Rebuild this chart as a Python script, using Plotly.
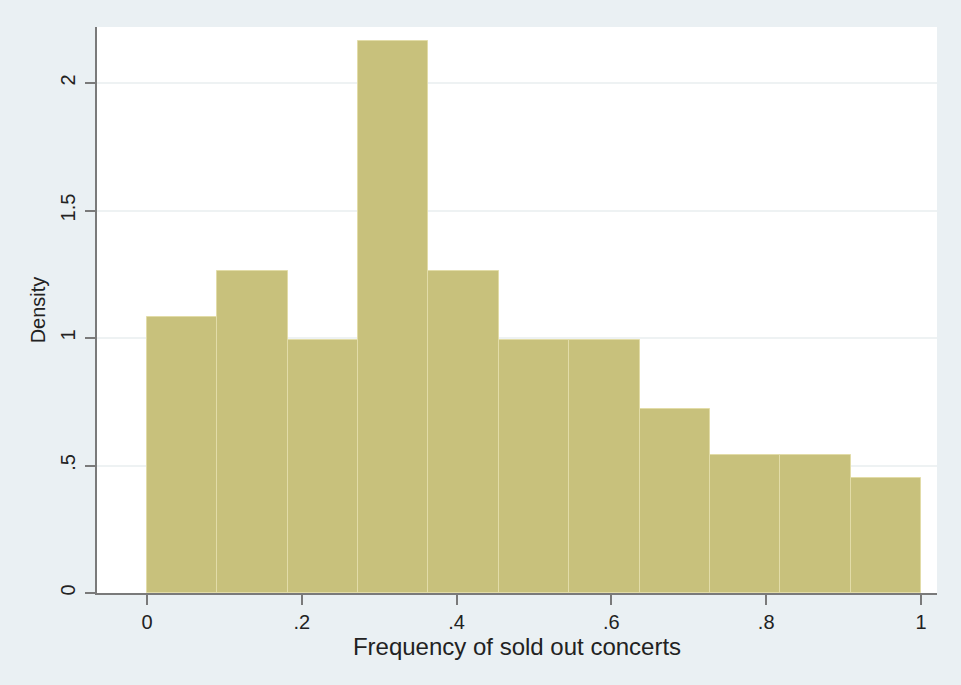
import numpy as np
import plotly.graph_objects as go

# Histogram of frequency of sold out concerts (11 bins on [0,1])
bin_counts = [12, 14, 11, 24, 14, 11, 11, 8, 6, 6, 5]
bin_start = 0.0
bin_end = 1.0
x_tickvals = [0, 0.2, 0.4, 0.6, 0.8, 1]
x_ticktext = ["0", ".2", ".4", ".6", ".8", "1"]
y_tickvals = [0, 0.5, 1, 1.5, 2]
y_ticktext = ["0", ".5", "1", "1.5", "2"]

nbins = len(bin_counts)
edges = np.linspace(bin_start, bin_end, nbins + 1)
width = (bin_end - bin_start) / nbins
centers = (edges[:-1] + edges[1:]) / 2
total = sum(bin_counts)
density = [c / (total * width) for c in bin_counts]

font = "Liberation Sans, Arial, sans-serif"
fig = go.Figure()
fig.add_trace(go.Bar(
    x=centers, y=density, width=width,
    marker=dict(color="#C8C17C", line=dict(color="#E2DCA8", width=1)),
    hoverinfo="x+y",
))

fig.update_layout(
    width=961, height=685,
    paper_bgcolor="#EAF0F3", plot_bgcolor="#FFFFFF",
    margin=dict(l=97, r=24, t=27, b=92),
    showlegend=False, bargap=0,
    font=dict(family=font, size=20, color="#222222"),
)
fig.update_xaxes(
    range=[-0.0646, 1.0207], tickvals=x_tickvals, ticktext=x_ticktext,
    showline=True, linecolor="#7A7A7A", linewidth=2,
    ticks="outside", ticklen=10, tickwidth=2, tickcolor="#7A7A7A",
    showgrid=False, zeroline=False,
    title=dict(text="Frequency of sold out concerts", standoff=4,
               font=dict(size=24)),
    tickfont=dict(size=20),
)
fig.update_yaxes(
    range=[0, 2.2196], tickvals=y_tickvals, ticktext=y_ticktext,
    showline=True, linecolor="#7A7A7A", linewidth=2,
    ticks="outside", ticklen=10, tickwidth=2, tickcolor="#7A7A7A",
    showgrid=True, gridcolor="#EEF2F3", gridwidth=2, zeroline=False,
    tickangle=-90, ticklabelstandoff=2,
    title=dict(text="Density", standoff=6, font=dict(size=20)),
    tickfont=dict(size=20),
)

fig.write_html(
    "out.html",
    config={"displayModeBar": False},
    post_script="document.body.style.margin='0';document.body.style.overflow='hidden';",
)
